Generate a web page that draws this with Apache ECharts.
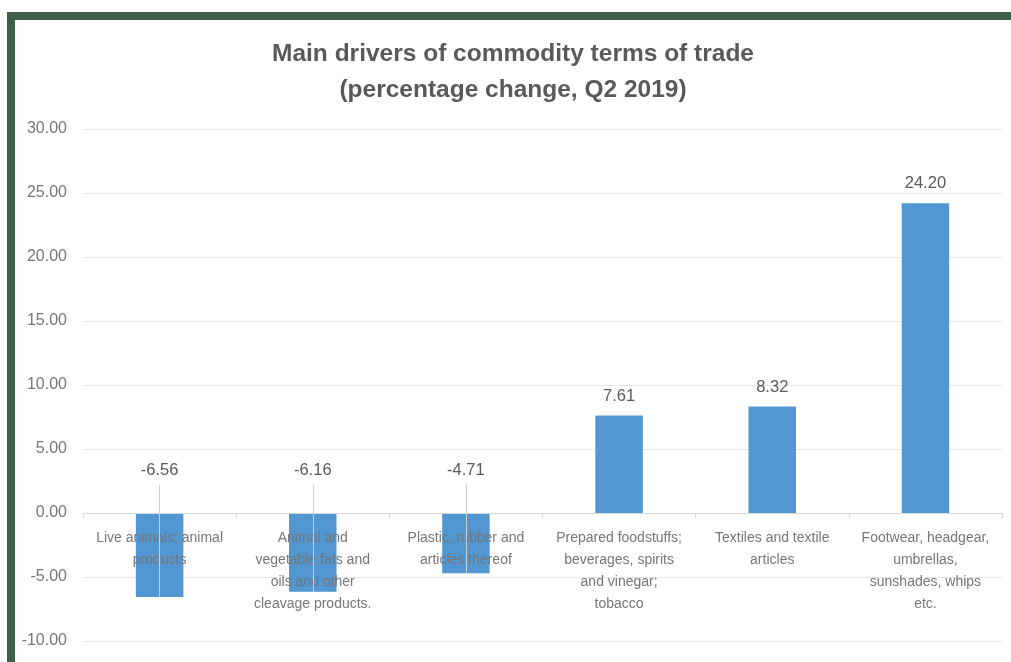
<!DOCTYPE html>
<html>
<head>
<meta charset="utf-8">
<script src="https://cdn.jsdelivr.net/npm/echarts@6/dist/echarts.min.js"></script>
<style>
  html, body { margin: 0; padding: 0; background: #fff; }
  #frame { position: absolute; left: 7px; top: 12px; width: 1004px; height: 650px;
           border-left: 8px solid #3e5f48; border-top: 8px solid #3e5f48; }
  #main { position: absolute; left: 15px; top: 20px; width: 996px; height: 642px; }
</style>
</head>
<body>
<div id="frame"></div>
<div id="main"></div>
<script>
// chart data
var categories = [
  'Live animals; animal\nproducts',
  'Animal and\nvegetable fats and\noils and other\ncleavage products.',
  'Plastic, rubber and\narticles thereof',
  'Prepared foodstuffs;\nbeverages, spirits\nand vinegar;\ntobacco',
  'Textiles and textile\narticles',
  'Footwear, headgear,\numbrellas,\nsunshades, whips\netc.'
];
var values = [-6.56, -6.16, -4.71, 7.61, 8.32, 24.20];
var yTicks = { min: -10, max: 30, interval: 5 };
var leaderTop = 2.2; // where the leader lines of the negative labels end

var chart = echarts.init(document.getElementById('main'));
var font = 'Liberation Sans';
var grey = '#595959';
var lightGrey = '#767676';

var gridTop = 109, gridBottom = 21;
var plotH = 642 - gridTop - gridBottom;
// the category axis (line + labels) sits on the zero line, like in Excel
var zeroOffset = -plotH * (0 - yTicks.min) / (yTicks.max - yTicks.min);

// negative bars get their label moved above the zero line with a thin leader line
var leaders = [];
values.forEach(function (v, i) {
  if (v < 0) {
    leaders.push([
      { coord: [i, v], value: v },
      { coord: [i, leaderTop], value: v }
    ]);
  }
});

var option = {
  animation: false,
  title: {
    text: 'Main drivers of commodity terms of trade\n(percentage change, Q2 2019)',
    left: 'center',
    top: 11,
    textStyle: { fontFamily: font, fontSize: 24.5, fontWeight: 'bold', color: grey, lineHeight: 36 }
  },
  grid: { left: 68, right: 9, top: gridTop, bottom: gridBottom, containLabel: false, outerBoundsMode: 'none' },
  xAxis: {
    type: 'category',
    data: categories,
    z: 3,
    position: 'bottom',
    offset: zeroOffset,
    axisLine: { onZero: false, lineStyle: { color: '#d9d9d9' } },
    axisTick: { show: true, length: 5, lineStyle: { color: '#d9d9d9' } },
    axisLabel: { interval: 0, margin: 14, fontFamily: font, fontSize: 14, lineHeight: 22, color: lightGrey }
  },
  yAxis: {
    type: 'value',
    min: yTicks.min, max: yTicks.max, interval: yTicks.interval,
    axisLine: { show: false },
    axisTick: { show: false },
    splitLine: { lineStyle: { color: '#e6e6e6' } },
    axisLabel: {
      margin: 16, fontFamily: font, fontSize: 16, color: lightGrey,
      formatter: function (v) { return v.toFixed(2); }
    }
  },
  series: [{
    type: 'bar',
    data: values.map(function (v) {
      return { value: v, label: { show: v >= 0 } };
    }),
    barCategoryGap: '69%',
    itemStyle: { color: '#5297d2' },
    label: {
      position: 'top', distance: 11, fontFamily: font, fontSize: 16.5, color: grey,
      formatter: function (p) { return p.value.toFixed(2); }
    },
    markLine: {
      silent: true,
      symbol: 'none',
      lineStyle: { color: '#cfcfcf', width: 1, type: 'solid' },
      label: {
        position: 'end', distance: 6, fontFamily: font, fontSize: 16.5, color: grey,
        formatter: function (p) { return Number(p.value).toFixed(2); }
      },
      data: leaders
    }
  }]
};
chart.setOption(option);
</script>
</body>
</html>
